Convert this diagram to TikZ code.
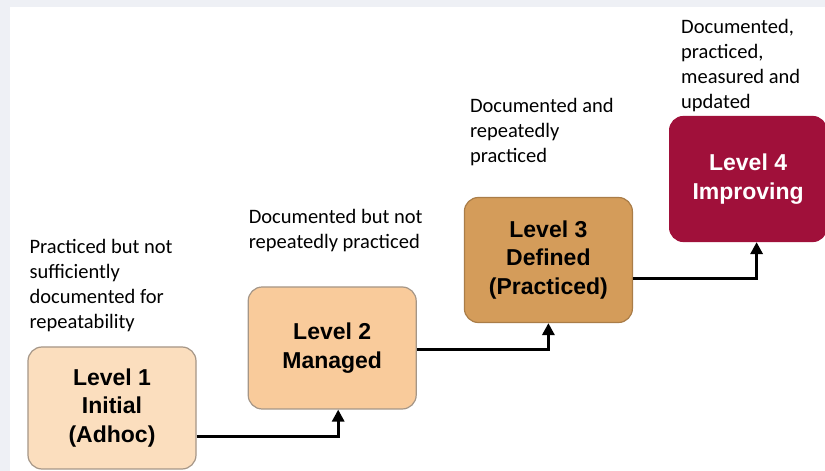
\documentclass[tikz,border=0pt]{standalone}
\usepackage{fontspec}
\setmainfont{Liberation Sans}
\newfontfamily\notefont{Carlito}
\usetikzlibrary{arrows.meta, positioning}
\definecolor{PaleBg}{RGB}{238, 240, 245}
\definecolor{PeachLight}{RGB}{251, 222, 190}
\definecolor{Peach}{RGB}{249, 203, 155}
\definecolor{Tan}{RGB}{212, 156, 90}
\definecolor{Wine}{RGB}{160, 16, 58}
\definecolor{EdgeGray}{RGB}{165, 150, 135}

\begin{document}
\begin{tikzpicture}[x=1pt, y=1pt,
    lvl/.style={draw=EdgeGray, line width=1.2pt, rectangle, rounded corners=14pt, align=center,
        font=\fontsize{23}{28.5}\selectfont\bfseries, minimum width=168pt, minimum height=122pt},
    note/.style={inner sep=0pt, align=left, font=\notefont\fontsize{20.5}{25}\selectfont},
    flow/.style={line width=3pt, -{Triangle[width=12pt, length=12pt]}}]
    % frame
    \fill[PaleBg] (0,0) rectangle (825,471);
    \fill[white] (10,0) rectangle (825,464);
    \useasboundingbox (0,0) rectangle (825,471);

    \node[lvl, fill=PeachLight] (L1) at (112,63) {Level 1\\Initial\\(Adhoc)};
    \node[lvl, fill=Peach, right=51pt of L1, yshift=60pt] (L2) {Level 2\\Managed};
    \node[lvl, fill=Tan, draw=Tan!80!black, minimum height=125pt, right=47pt of L2, yshift=88pt] (L3) {Level 3\\Defined\\(Practiced)};
    \node[lvl, fill=Wine, draw=Wine, text=white, minimum width=157pt, minimum height=125pt,
        right=36pt of L3, yshift=81pt] (L4) {Level 4\\Improving};

    \node[note, above right=14pt and 2pt of L1.north west] (N1) {Practiced but not\\sufficiently\\documented for\\repeatability};
    \node[note, above right=34pt and 1pt of L2.north west] (N2) {Documented but not\\repeatedly practiced};
    \node[note, above right=31pt and 6pt of L3.north west] (N3) {Documented and\\repeatedly\\practiced};
    \node[note, above right=4pt and 12pt of L4.north west] (N4) {Documented,\\practiced,\\measured and\\updated};

    \draw[flow] ([yshift=-29pt]L1.east) -| ([xshift=6pt]L2.south);
    \draw[flow] ([yshift=-1.5pt]L2.east) -| (L3.south);
    \draw[flow] ([yshift=-18.5pt]L3.east) -| ([xshift=8.5pt]L4.south);
\end{tikzpicture}
\end{document}
